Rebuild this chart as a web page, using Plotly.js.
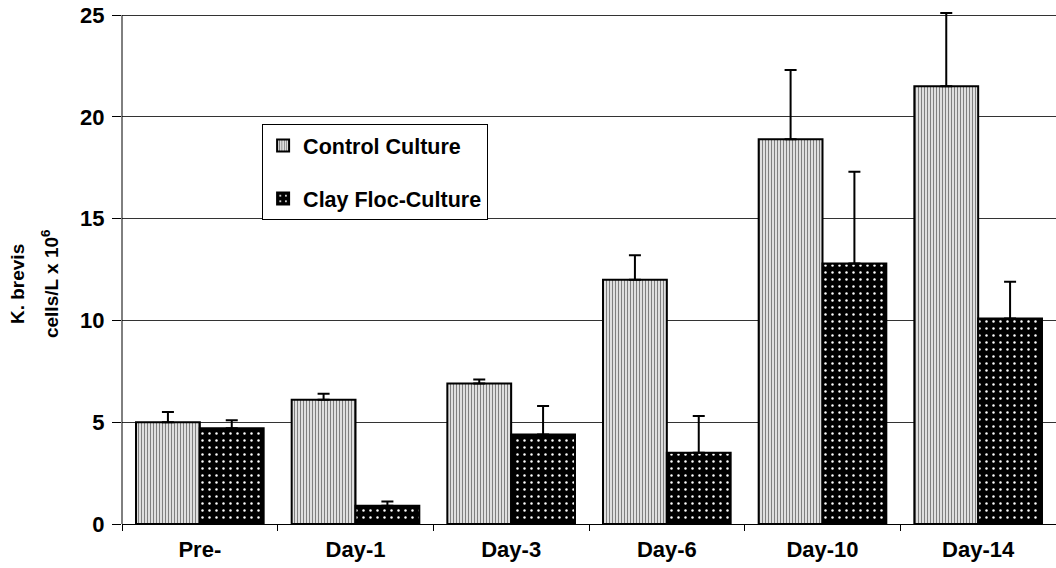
<!DOCTYPE html>
<html><head><meta charset="utf-8">
<script src="https://cdn.plot.ly/plotly-3.0.1.min.js"></script>
<style>body{margin:0;padding:0;background:#fff}#chart{width:1056px;height:568px}</style>
</head><body><div id="chart"></div>
<script>
const categories = ["Pre-", "Day-1", "Day-3", "Day-6", "Day-10", "Day-14"];
const controlValues = [5.0, 6.1, 6.9, 12.0, 18.9, 21.5];
const controlErrors = [0.5, 0.3, 0.2, 1.2, 3.4, 3.6];
const clayValues = [4.7, 0.9, 4.4, 3.5, 12.8, 10.1];
const clayErrors = [0.4, 0.2, 1.4, 1.8, 4.5, 1.8];
const yTicks = [0, 5, 10, 15, 20, 25];
const yTitleLines = ["K. brevis", "cells/L x 10<sup>6</sup>"];

const FONT = "Liberation Sans, Arial, sans-serif";
const errStyle = {type: "data", symmetric: false, visible: true, color: "#000", thickness: 2, width: 6};

const traces = [
  {
    type: "bar", name: "Control Culture", x: categories, y: controlValues,
    legendgroup: "a", cliponaxis: false,
    error_y: Object.assign({array: controlErrors, arrayminus: controlValues.map(() => 0)}, errStyle),
    marker: {color: "#ffffff", line: {color: "#000", width: 2},
      pattern: {shape: "|", fgcolor: "#000", bgcolor: "#fff", size: 3, solidity: 0.5, fillmode: "overlay"}}
  },
  {
    type: "bar", name: "Clay Floc-Culture", x: categories, y: clayValues,
    legendgroup: "b", cliponaxis: false,
    error_y: Object.assign({array: clayErrors, arrayminus: clayValues.map(() => 0)}, errStyle),
    marker: {color: "#000000", line: {color: "#000", width: 2},
      pattern: {shape: ".", fgcolor: "#ffffff", bgcolor: "#000000", size: 7, solidity: 0.1, fillmode: "replace"}}
  }
];

// plot area: top of 25 at y=15, 0 at y=524 -> 20.36 px per unit; extend range a little so top error cap shows
const yMax = 25.25;
const pxPerUnit = 509 / 25;
const plotH = yMax * pxPerUnit;
const topM = 524 - plotH;
const PW = 934;
const layout = {
  width: 1056, height: 568,
  margin: {l: 122, r: 0, t: topM, b: 44},
  paper_bgcolor: "#fff", plot_bgcolor: "#fff",
  barmode: "group", bargap: 0.18, bargroupgap: 0,
  font: {family: FONT, color: "#000"},
  showlegend: true,
  legend: {x: 0.15, y: (524 - 124) / plotH, xanchor: "left", yanchor: "top",
    bordercolor: "#000", borderwidth: 1, bgcolor: "#fff",
    font: {size: 21.5, family: FONT, weight: "bold"},
    tracegroupgap: 22, itemwidth: 30},
  xaxis: {
    type: "category", showgrid: false, showline: true, linecolor: "#000", linewidth: 1,
    ticks: "outside", tickson: "boundaries", ticklen: 6, tickcolor: "#000",
    tickfont: {size: 22, weight: "bold", family: FONT}, zeroline: false, ticklabelstandoff: 6
  },
  yaxis: {
    range: [0, yMax], tickvals: yTicks, ticktext: yTicks.map(String),
    showline: false,
    ticks: "outside", ticklen: 9, tickcolor: "#000",
    showgrid: true, gridcolor: "#333", gridwidth: 1, zeroline: false,
    tickfont: {size: 22, weight: "bold", family: FONT}, ticklabelstandoff: 3
  },
  shapes: [
    {type: "line", xref: "paper", yref: "y", x0: 0, x1: 0, y0: yTicks[0], y1: yTicks[yTicks.length - 1],
      line: {color: "#000", width: 1}}
  ],
  annotations: [
    {text: yTitleLines[0], xref: "paper", yref: "paper", x: (17 - 122) / PW, y: (524 - 284) / plotH,
      textangle: -90, showarrow: false, font: {size: 19, weight: "bold", family: FONT}, xanchor: "center", yanchor: "middle"},
    {text: yTitleLines[1], xref: "paper", yref: "paper", x: (50 - 122) / PW, y: (524 - 284) / plotH,
      textangle: -90, showarrow: false, font: {size: 19, weight: "bold", family: FONT}, xanchor: "center", yanchor: "middle"}
  ]
};

Plotly.newPlot("chart", traces, layout, {displayModeBar: false, staticPlot: true});
</script></body></html>
